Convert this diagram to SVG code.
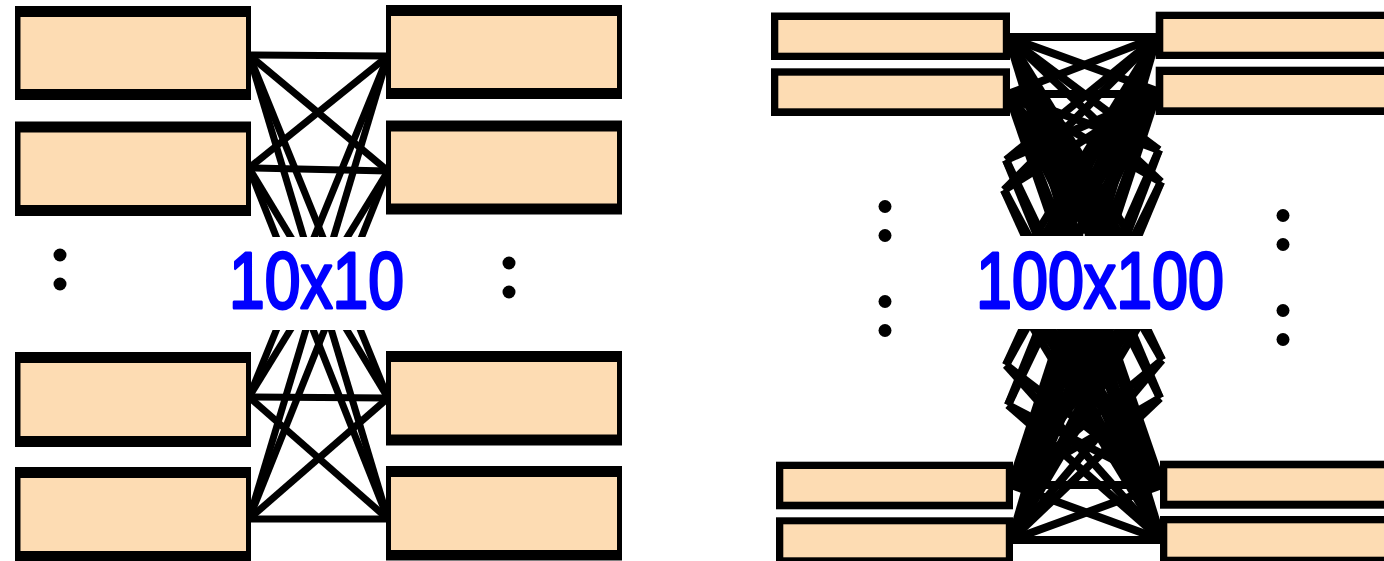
<svg xmlns="http://www.w3.org/2000/svg" width="1384" height="561" viewBox="0 0 1384 561">
  <style>
    .edge { stroke: #000; stroke-width: 7; fill: none; stroke-linecap: butt; }
    #connectors-100 .edge { stroke-width: 8; }
    .frame { fill: #000; }
    .fill { fill: #FDDCB3; }
    .dot { fill: #000; }
    .mask { fill: #fff; }
    .label { font-family: "Liberation Sans", Arial, sans-serif; font-size: 80px; fill: #0000ff; stroke: #0000ff; stroke-width: 3; stroke-linejoin: round; text-anchor: middle; }
  </style>

  <rect width="1384" height="561" fill="#fff"/>

  <!-- full bipartite wiring, 10x10 panel -->
  <g id="connectors-10">
    <line class="edge" x1="249" y1="55" x2="388" y2="56"/>
    <line class="edge" x1="249" y1="55" x2="388" y2="171"/>
    <line class="edge" x1="249" y1="55" x2="388" y2="398"/>
    <line class="edge" x1="249" y1="55" x2="388" y2="519"/>
    <line class="edge" x1="249" y1="168" x2="388" y2="56"/>
    <line class="edge" x1="249" y1="168" x2="388" y2="171"/>
    <line class="edge" x1="249" y1="168" x2="388" y2="398"/>
    <line class="edge" x1="249" y1="168" x2="388" y2="519"/>
    <line class="edge" x1="249" y1="397" x2="388" y2="56"/>
    <line class="edge" x1="249" y1="397" x2="388" y2="171"/>
    <line class="edge" x1="249" y1="397" x2="388" y2="398"/>
    <line class="edge" x1="249" y1="397" x2="388" y2="519"/>
    <line class="edge" x1="249" y1="519" x2="388" y2="56"/>
    <line class="edge" x1="249" y1="519" x2="388" y2="171"/>
    <line class="edge" x1="249" y1="519" x2="388" y2="398"/>
    <line class="edge" x1="249" y1="519" x2="388" y2="519"/>
  </g>

  <!-- dense wiring, 100x100 panel -->
  <g id="connectors-100">
    <!-- between the four visible pairs -->
    <line class="edge" x1="1008" y1="37" x2="1157" y2="37"/>
    <line class="edge" x1="1008" y1="37" x2="1157" y2="91"/>
    <line class="edge" x1="1008" y1="37" x2="1162" y2="485"/>
    <line class="edge" x1="1008" y1="37" x2="1162" y2="540"/>
    <line class="edge" x1="1008" y1="94" x2="1157" y2="37"/>
    <line class="edge" x1="1008" y1="94" x2="1157" y2="94"/>
    <line class="edge" x1="1008" y1="94" x2="1162" y2="485"/>
    <line class="edge" x1="1008" y1="94" x2="1162" y2="540"/>
    <line class="edge" x1="1011" y1="485" x2="1157" y2="37"/>
    <line class="edge" x1="1011" y1="485" x2="1157" y2="94"/>
    <line class="edge" x1="1011" y1="485" x2="1162" y2="485"/>
    <line class="edge" x1="1011" y1="485" x2="1162" y2="540"/>
    <line class="edge" x1="1011" y1="540" x2="1157" y2="37"/>
    <line class="edge" x1="1011" y1="540" x2="1157" y2="94"/>
    <line class="edge" x1="1011" y1="540" x2="1162" y2="485"/>
    <line class="edge" x1="1011" y1="540" x2="1162" y2="540"/>
    <!-- towards rows hidden behind the label -->
    <line class="edge" x1="1008" y1="37" x2="1157" y2="280"/>
    <line class="edge" x1="1008" y1="37" x2="1157" y2="300"/>
    <line class="edge" x1="1008" y1="37" x2="1157" y2="320"/>
    <line class="edge" x1="1008" y1="94" x2="1157" y2="280"/>
    <line class="edge" x1="1008" y1="94" x2="1157" y2="300"/>
    <line class="edge" x1="1008" y1="94" x2="1157" y2="320"/>
    <line class="edge" x1="1157" y1="37" x2="1008" y2="280"/>
    <line class="edge" x1="1157" y1="37" x2="1008" y2="300"/>
    <line class="edge" x1="1157" y1="37" x2="1008" y2="320"/>
    <line class="edge" x1="1157" y1="94" x2="1008" y2="280"/>
    <line class="edge" x1="1157" y1="94" x2="1008" y2="300"/>
    <line class="edge" x1="1157" y1="94" x2="1008" y2="320"/>
    <line class="edge" x1="1011" y1="485" x2="1160" y2="250"/>
    <line class="edge" x1="1011" y1="485" x2="1160" y2="270"/>
    <line class="edge" x1="1011" y1="485" x2="1160" y2="290"/>
    <line class="edge" x1="1011" y1="540" x2="1160" y2="250"/>
    <line class="edge" x1="1011" y1="540" x2="1160" y2="270"/>
    <line class="edge" x1="1011" y1="540" x2="1160" y2="290"/>
    <line class="edge" x1="1162" y1="485" x2="1010" y2="250"/>
    <line class="edge" x1="1162" y1="485" x2="1010" y2="270"/>
    <line class="edge" x1="1162" y1="485" x2="1010" y2="290"/>
    <line class="edge" x1="1162" y1="540" x2="1010" y2="250"/>
    <line class="edge" x1="1162" y1="540" x2="1010" y2="270"/>
    <line class="edge" x1="1162" y1="540" x2="1010" y2="290"/>
    <!-- rows whose boxes are left out -->
    <line class="edge" x1="1006" y1="160" x2="1157" y2="37"/>
    <line class="edge" x1="1006" y1="160" x2="1157" y2="94"/>
    <line class="edge" x1="1006" y1="160" x2="1162" y2="485"/>
    <line class="edge" x1="1006" y1="160" x2="1162" y2="540"/>
    <line class="edge" x1="1004" y1="190" x2="1157" y2="37"/>
    <line class="edge" x1="1004" y1="190" x2="1157" y2="94"/>
    <line class="edge" x1="1004" y1="190" x2="1162" y2="485"/>
    <line class="edge" x1="1004" y1="190" x2="1162" y2="540"/>
    <line class="edge" x1="1159" y1="150" x2="1008" y2="37"/>
    <line class="edge" x1="1159" y1="150" x2="1008" y2="94"/>
    <line class="edge" x1="1159" y1="150" x2="1011" y2="485"/>
    <line class="edge" x1="1159" y1="150" x2="1011" y2="540"/>
    <line class="edge" x1="1161" y1="182" x2="1008" y2="37"/>
    <line class="edge" x1="1161" y1="182" x2="1008" y2="94"/>
    <line class="edge" x1="1161" y1="182" x2="1011" y2="485"/>
    <line class="edge" x1="1161" y1="182" x2="1011" y2="540"/>
    <line class="edge" x1="1006" y1="365" x2="1157" y2="37"/>
    <line class="edge" x1="1006" y1="365" x2="1157" y2="94"/>
    <line class="edge" x1="1006" y1="365" x2="1162" y2="485"/>
    <line class="edge" x1="1006" y1="365" x2="1162" y2="540"/>
    <line class="edge" x1="1008" y1="405" x2="1157" y2="37"/>
    <line class="edge" x1="1008" y1="405" x2="1157" y2="94"/>
    <line class="edge" x1="1008" y1="405" x2="1162" y2="485"/>
    <line class="edge" x1="1008" y1="405" x2="1162" y2="540"/>
    <line class="edge" x1="1162" y1="360" x2="1008" y2="37"/>
    <line class="edge" x1="1162" y1="360" x2="1008" y2="94"/>
    <line class="edge" x1="1162" y1="360" x2="1011" y2="485"/>
    <line class="edge" x1="1162" y1="360" x2="1011" y2="540"/>
    <line class="edge" x1="1160" y1="398" x2="1008" y2="37"/>
    <line class="edge" x1="1160" y1="398" x2="1008" y2="94"/>
    <line class="edge" x1="1160" y1="398" x2="1011" y2="485"/>
    <line class="edge" x1="1160" y1="398" x2="1011" y2="540"/>
  </g>

  <!-- labels on a white band that hides the middle rows -->
  <g id="label-10">
    <rect class="mask" x="222" y="237" width="190" height="93"/>
    <text class="label" x="316.5" y="308" textLength="175" lengthAdjust="spacingAndGlyphs">10x10</text>
  </g>
  <g id="label-100">
    <rect class="mask" x="955" y="236" width="290" height="93"/>
    <text class="label" x="1100" y="308" textLength="248" lengthAdjust="spacingAndGlyphs">100x100</text>
  </g>

  <!-- 10x10 panel: left column -->
  <g id="n10-left-1"><rect class="frame" x="15" y="6" width="236" height="94"/><rect class="fill" x="20.5" y="17" width="225.5" height="72"/></g>
  <g id="n10-left-2"><rect class="frame" x="15" y="121.5" width="236" height="94.5"/><rect class="fill" x="20.5" y="132.5" width="225.5" height="72.5"/></g>
  <g id="n10-left-3"><rect class="frame" x="15" y="352" width="236" height="95"/><rect class="fill" x="20.5" y="363" width="225.5" height="73"/></g>
  <g id="n10-left-4"><rect class="frame" x="15" y="467" width="236" height="95"/><rect class="fill" x="20.5" y="478" width="225.5" height="73"/></g>
  <!-- 10x10 panel: right column -->
  <g id="n10-right-1"><rect class="frame" x="386" y="5" width="236" height="94"/><rect class="fill" x="391" y="16" width="226" height="72"/></g>
  <g id="n10-right-2"><rect class="frame" x="386" y="120.5" width="236" height="94"/><rect class="fill" x="391" y="131.5" width="226" height="72"/></g>
  <g id="n10-right-3"><rect class="frame" x="386" y="351" width="236" height="94.5"/><rect class="fill" x="391" y="362" width="226" height="72.5"/></g>
  <g id="n10-right-4"><rect class="frame" x="386" y="466" width="236" height="94.5"/><rect class="fill" x="391" y="477" width="226" height="73"/></g>

  <!-- 100x100 panel: left column -->
  <g id="n100-left-1"><rect class="frame" x="771" y="12.5" width="239" height="47.5"/><rect class="fill" x="778.3" y="20" width="224.5" height="32.7"/></g>
  <g id="n100-left-2"><rect class="frame" x="771" y="68.3" width="239" height="47.7"/><rect class="fill" x="778.3" y="75.7" width="224.5" height="32.6"/></g>
  <g id="n100-left-99"><rect class="frame" x="776" y="461.7" width="237" height="47.6"/><rect class="fill" x="783.3" y="469" width="222.5" height="32.7"/></g>
  <g id="n100-left-100"><rect class="frame" x="776" y="517.3" width="237" height="48"/><rect class="fill" x="783.3" y="524.3" width="222.5" height="33"/></g>
  <!-- 100x100 panel: right column -->
  <g id="n100-right-1"><rect class="frame" x="1155.7" y="11.7" width="240" height="47.3"/><rect class="fill" x="1163.3" y="19" width="230" height="32.7"/></g>
  <g id="n100-right-2"><rect class="frame" x="1155.7" y="66.7" width="240" height="48.3"/><rect class="fill" x="1163.3" y="75" width="230" height="32.3"/></g>
  <g id="n100-right-99"><rect class="frame" x="1160" y="460.7" width="240" height="48"/><rect class="fill" x="1167.3" y="468.3" width="230" height="32.4"/></g>
  <g id="n100-right-100"><rect class="frame" x="1160" y="516" width="240" height="48"/><rect class="fill" x="1167.3" y="523.3" width="230" height="33.4"/></g>

  <!-- ellipsis marks for the omitted rows -->
  <g id="ellipsis">
    <circle class="dot" cx="60" cy="255" r="6.5"/>
    <circle class="dot" cx="60" cy="284" r="6.5"/>
    <circle class="dot" cx="509" cy="263" r="6.5"/>
    <circle class="dot" cx="509" cy="292" r="6.5"/>
    <circle class="dot" cx="885" cy="206.5" r="6.5"/>
    <circle class="dot" cx="885" cy="235.5" r="6.5"/>
    <circle class="dot" cx="885" cy="301.5" r="6.5"/>
    <circle class="dot" cx="885" cy="330.5" r="6.5"/>
    <circle class="dot" cx="1283" cy="215.5" r="6.5"/>
    <circle class="dot" cx="1283" cy="244.5" r="6.5"/>
    <circle class="dot" cx="1283" cy="310.5" r="6.5"/>
    <circle class="dot" cx="1283" cy="339.5" r="6.5"/>
  </g>
</svg>
